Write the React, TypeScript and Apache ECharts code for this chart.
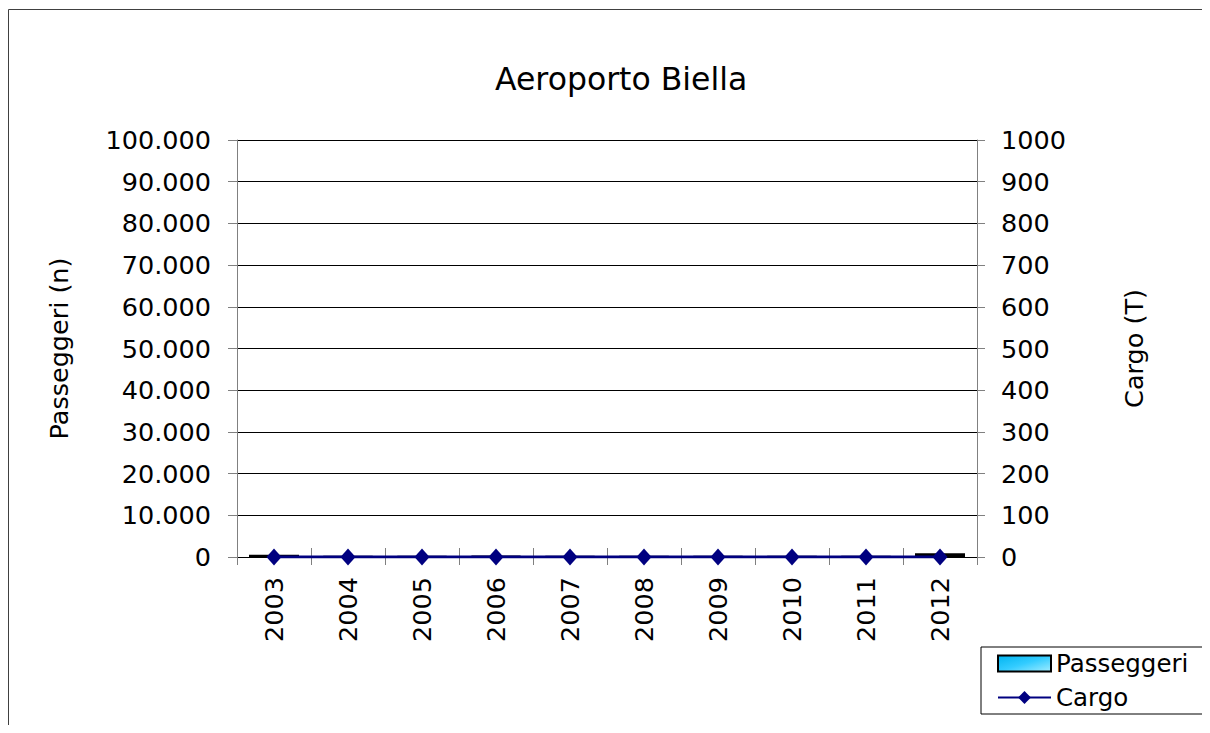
import React, { useEffect, useRef } from "react";
import * as echarts from "echarts";

const years = ["2003", "2004", "2005", "2006", "2007", "2008", "2009", "2010", "2011", "2012"];
const passeggeri = [550, 120, 150, 200, 150, 80, 150, 80, 120, 900];
const cargo = [0, 0, 0, 0, 0, 0, 0, 0, 0, 0];

const FONT = "'DejaVu Sans', Verdana, sans-serif";

function fmtThousands(v: number): string {
  const s = Math.round(v).toString();
  return s.replace(/\B(?=(\d{3})+(?!\d))/g, ".");
}

export default function App() {
  const ref = useRef<HTMLDivElement>(null);
  useEffect(() => {
    if (!ref.current) return;
    const chart = echarts.init(ref.current, null, { renderer: "svg" });
    chart.setOption({
      animation: false,
      title: {
        text: "Aeroporto Biella",
        left: 482,
        top: 50,
        textStyle: { fontFamily: FONT, fontSize: 31.5, fontWeight: "normal", color: "#000" },
      },
      graphic: [
        {
          type: "line",
          shape: { x1: 0.5, y1: 1.5, x2: 1240, y2: 1.5 },
          style: { stroke: "#404040", lineWidth: 1 },
          silent: true,
          z: -10,
        },
        {
          type: "line",
          shape: { x1: 0.5, y1: 1.5, x2: 0.5, y2: 740 },
          style: { stroke: "#404040", lineWidth: 1 },
          silent: true,
          z: -10,
        },
      ],
      legend: {
        left: 973,
        top: 639,
        orient: "vertical",
        backgroundColor: "#fff",
        borderColor: "#000",
        borderWidth: 1,
        padding: [4, 15, 4, 16],
        itemWidth: 53,
        itemHeight: 16,
        itemGap: 9,
        textStyle: { fontFamily: FONT, fontSize: 24.5, color: "#000", lineHeight: 25 },
        data: [{ name: "Passeggeri", icon: "rect" }, { name: "Cargo" }],
      },
      grid: { left: 229, top: 132, width: 740, height: 417, containLabel: false },
      xAxis: [
        {
          type: "category",
          data: years,
          position: "bottom",
          boundaryGap: true,
          axisLine: { show: true, lineStyle: { color: "#000", width: 1 } },
          axisTick: { show: true, interval: 0, alignWithLabel: false, length: 8, lineStyle: { color: "#808080" } },
          axisLabel: { interval: 0, rotate: 90, margin: 20, fontFamily: FONT, fontSize: 25.5, color: "#000" },
          splitLine: { show: false },
        },
        {
          type: "category",
          data: years,
          position: "bottom",
          offset: 0,
          boundaryGap: true,
          axisLine: { show: false },
          axisTick: { show: true, inside: true, interval: 0, length: 9, lineStyle: { color: "#808080" } },
          axisLabel: { show: false },
          splitLine: { show: false },
        },
      ],
      yAxis: [
        {
          type: "value",
          min: 0,
          max: 100000,
          interval: 10000,
          position: "left",
          name: "Passeggeri (n)",
          nameLocation: "middle",
          nameRotate: 90,
          nameGap: 165,
          nameTextStyle: { fontFamily: FONT, fontSize: 25.5, color: "#000" },
          axisLine: { show: true, lineStyle: { color: "#808080" } },
          axisTick: { show: true, length: 9, lineStyle: { color: "#808080" } },
          axisLabel: { margin: 26, fontFamily: FONT, fontSize: 25.5, color: "#000", formatter: (v: number) => fmtThousands(v) },
          splitLine: { show: true, lineStyle: { color: "#000", width: 1 } },
        },
        {
          type: "value",
          min: 0,
          max: 1000,
          interval: 100,
          position: "right",
          name: "Cargo (T)",
          nameLocation: "middle",
          nameRotate: 90,
          nameGap: 144,
          nameTextStyle: { fontFamily: FONT, fontSize: 25.5, color: "#000" },
          axisLine: { show: true, lineStyle: { color: "#808080" } },
          axisTick: { show: true, length: 8, lineStyle: { color: "#808080" } },
          axisLabel: { margin: 24, fontFamily: FONT, fontSize: 25.5, color: "#000", formatter: (v: number) => String(v) },
          splitLine: { show: false },
        },
      ],
      series: [
        {
          name: "Passeggeri",
          type: "bar",
          xAxisIndex: 0,
          yAxisIndex: 0,
          data: passeggeri,
          barWidth: 50,
          itemStyle: {
            color: new echarts.graphic.LinearGradient(0, 0, 1, 1, [
              { offset: 0, color: "#00b4f0" },
              { offset: 0.5, color: "#33ccff" },
              { offset: 1, color: "#a0ecff" },
            ]),
            borderColor: "#000",
            borderWidth: 2,
          },
        },
        {
          name: "Cargo",
          type: "line",
          xAxisIndex: 0,
          yAxisIndex: 1,
          data: cargo,
          symbol: "diamond",
          symbolSize: [15, 17],
          showAllSymbol: true,
          lineStyle: { color: "#000080", width: 3 },
          itemStyle: { color: "#000080" },
          z: 5,
        },
      ],
    });
    return () => chart.dispose();
  }, []);
  return (
    <div style={{ width: 1202, height: 717, overflow: "hidden" }}>
      <div ref={ref} style={{ width: 1240, height: 740 }} />
    </div>
  );
}
